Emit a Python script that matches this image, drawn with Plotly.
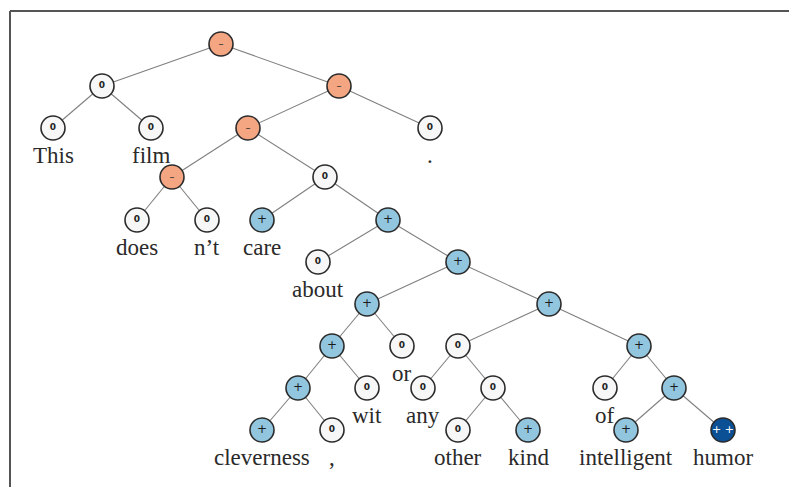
import plotly.graph_objects as go

# Tree data: node x position, level y position, sentiment, parent index, leaf word
node_x = [221, 102, 339, 53, 151, 248, 430, 172, 325, 137, 207, 262, 388, 318, 458,
          367, 549, 332, 402, 458, 639, 298, 367, 423, 493, 605, 674, 262, 332, 458,
          528, 626, 723]
node_y = [44, 86, 86, 128, 128, 128, 128, 177, 177, 220, 220, 220, 220, 262, 262,
          304, 304, 346, 346, 346, 346, 388, 388, 388, 388, 388, 388, 430, 430, 430,
          430, 430, 430]
sentiment = ["−", "0", "−", "0", "0", "−", "0", "−", "0", "0", "0", "+", "+", "0", "+",
             "+", "+", "+", "0", "0", "+", "+", "0", "0", "0", "0", "+", "+", "0", "0",
             "+", "+", "++"]
parent = [None, 0, 0, 1, 1, 2, 2, 5, 5, 7, 7, 8, 8, 12, 12,
          14, 14, 15, 15, 16, 16, 17, 17, 19, 19, 20, 20, 21, 21, 24,
          24, 26, 26]
words = ["", "", "", "This", "film", "", ".", "", "", "does", "n’t", "care", "", "about", "",
         "", "", "", "or", "", "", "", "wit", "any", "", "of", "", "cleverness", ",", "other",
         "kind", "intelligent", "humor"]

fill_map = {"−": "#F4A582", "0": "#F7F7F7", "+": "#92C5DE", "++": "#0B4F94"}
text_map = {"−": "–", "0": "<b>0</b>", "+": "+", "++": "+ +"}
tcol_map = {"−": "#333333", "0": "#222222", "+": "#1a1a1a", "++": "#FFFFFF"}
tsize_map = {"−": 10, "0": 9, "+": 12, "++": 11}

W, H = 789, 487

fig = go.Figure()

# edges
ex, ey = [], []
for i, p in enumerate(parent):
    if p is None:
        continue
    ex += [node_x[p], node_x[i], None]
    ey += [node_y[p], node_y[i], None]
fig.add_trace(go.Scatter(x=ex, y=ey, mode="lines",
                         line=dict(color="#7f7f7f", width=1.1),
                         hoverinfo="skip", showlegend=False))

# nodes
fig.add_trace(go.Scatter(
    x=node_x, y=node_y, mode="markers+text",
    marker=dict(size=24, color=[fill_map[s] for s in sentiment],
                line=dict(color="#2b2b2b", width=1.6)),
    text=[text_map[s] for s in sentiment],
    textposition="middle center",
    textfont=dict(family="DejaVu Sans", size=[tsize_map[s] for s in sentiment],
                  color=[tcol_map[s] for s in sentiment]),
    hoverinfo="skip", showlegend=False))

# leaf words
for i, w in enumerate(words):
    if not w:
        continue
    fig.add_annotation(x=node_x[i], y=node_y[i] + 27, text=w, showarrow=False,
                       xanchor="center", yanchor="middle",
                       font=dict(family="Liberation Serif", size=23, color="#2a2a2a"))

# frame (paper coordinates, not clipped)
fx, fy = 10 / W, 1 - 11 / H
fig.add_shape(type="line", x0=fx, y0=fy, x1=1.05, y1=fy, xref="paper", yref="paper",
              line=dict(color="#555555", width=2))
fig.add_shape(type="line", x0=fx, y0=fy, x1=fx, y1=-0.05, xref="paper", yref="paper",
              line=dict(color="#555555", width=2))

fig.update_layout(
    width=W, height=H,
    margin=dict(l=0, r=0, t=0, b=0),
    paper_bgcolor="white", plot_bgcolor="white",
    xaxis=dict(range=[0, W], visible=False, fixedrange=True),
    yaxis=dict(range=[H, 0], visible=False, fixedrange=True),
)

fig.write_html("out.html", config={"displayModeBar": False, "responsive": False},
               post_script="document.body.style.margin='0px';document.body.style.overflow='hidden';")
